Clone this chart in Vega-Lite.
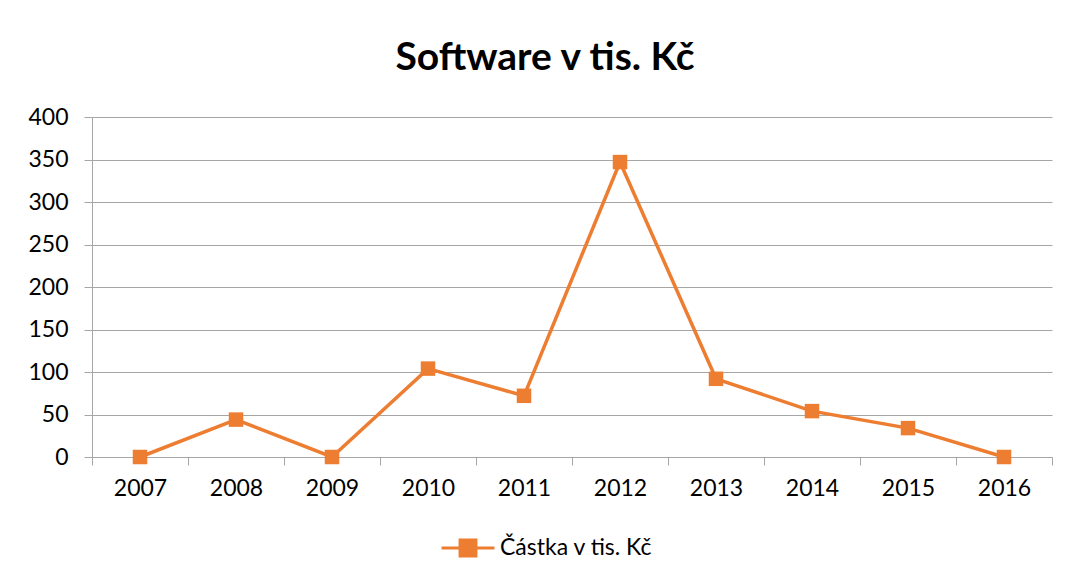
{
  "$schema": "https://vega.github.io/schema/vega-lite/v6.json",
  "width": 960,
  "height": 340,
  "autosize": {"type": "none"},
  "padding": {"left": 92, "top": 117, "right": 19, "bottom": 124},
  "background": "white",
  "title": {
    "text": "Software v tis. Kč",
    "font": "Lato",
    "fontSize": 39,
    "fontWeight": "bold",
    "color": "#000000",
    "anchor": "middle",
    "dx": -27,
    "offset": 28
  },
  "data": {
    "values": [
      {"year": "2007", "value": 0, "series": "Částka v tis. Kč"},
      {"year": "2008", "value": 44, "series": "Částka v tis. Kč"},
      {"year": "2009", "value": 0, "series": "Částka v tis. Kč"},
      {"year": "2010", "value": 104, "series": "Částka v tis. Kč"},
      {"year": "2011", "value": 72, "series": "Částka v tis. Kč"},
      {"year": "2012", "value": 347, "series": "Částka v tis. Kč"},
      {"year": "2013", "value": 92, "series": "Částka v tis. Kč"},
      {"year": "2014", "value": 54, "series": "Částka v tis. Kč"},
      {"year": "2015", "value": 34, "series": "Částka v tis. Kč"},
      {"year": "2016", "value": 0, "series": "Částka v tis. Kč"}
    ]
  },
  "mark": {
    "type": "line",
    "strokeWidth": 3.5,
    "point": {"shape": "square", "size": 210, "filled": true, "opacity": 1}
  },
  "encoding": {
    "x": {
      "field": "year",
      "type": "ordinal",
      "scale": {"type": "band", "paddingInner": 0, "paddingOuter": 0},
      "axis": {
        "title": null,
        "labelAngle": 0,
        "tickBand": "extent",
        "grid": false,
        "domainColor": "#A6A6A6",
        "tickColor": "#A6A6A6",
        "tickSize": 8,
        "labelFont": "Lato",
        "labelFontSize": 23,
        "labelColor": "#000000",
        "labelPadding": 12
      }
    },
    "y": {
      "field": "value",
      "type": "quantitative",
      "scale": {"domain": [0, 400], "nice": false},
      "axis": {
        "title": null,
        "values": [0, 50, 100, 150, 200, 250, 300, 350, 400],
        "gridColor": "#A6A6A6",
        "domainColor": "#A6A6A6",
        "tickColor": "#A6A6A6",
        "tickSize": 8,
        "labelFont": "Lato",
        "labelFontSize": 23,
        "labelColor": "#000000",
        "labelPadding": 16
      }
    },
    "color": {
      "field": "series",
      "type": "nominal",
      "scale": {"range": ["#ED7D31"]},
      "legend": {
        "title": null,
        "orient": "none",
        "legendX": 348,
        "legendY": 403,
        "direction": "horizontal",
        "labelFont": "Lato",
        "labelFontSize": 23,
        "labelColor": "#000000",
        "labelOffset": 4,
        "symbolType": "M-1,0L1,0M-0.3,-0.3L0.3,-0.3L0.3,0.3L-0.3,0.3Z",
        "symbolSize": 2800,
        "symbolStrokeWidth": 3,
        "symbolFillColor": "#ED7D31",
        "symbolStrokeColor": "#ED7D31",
        "symbolOpacity": 1
      }
    }
  },
  "config": {
    "view": {"stroke": null},
    "axis": {"gridWidth": 1, "domainWidth": 1, "tickWidth": 1}
  }
}
